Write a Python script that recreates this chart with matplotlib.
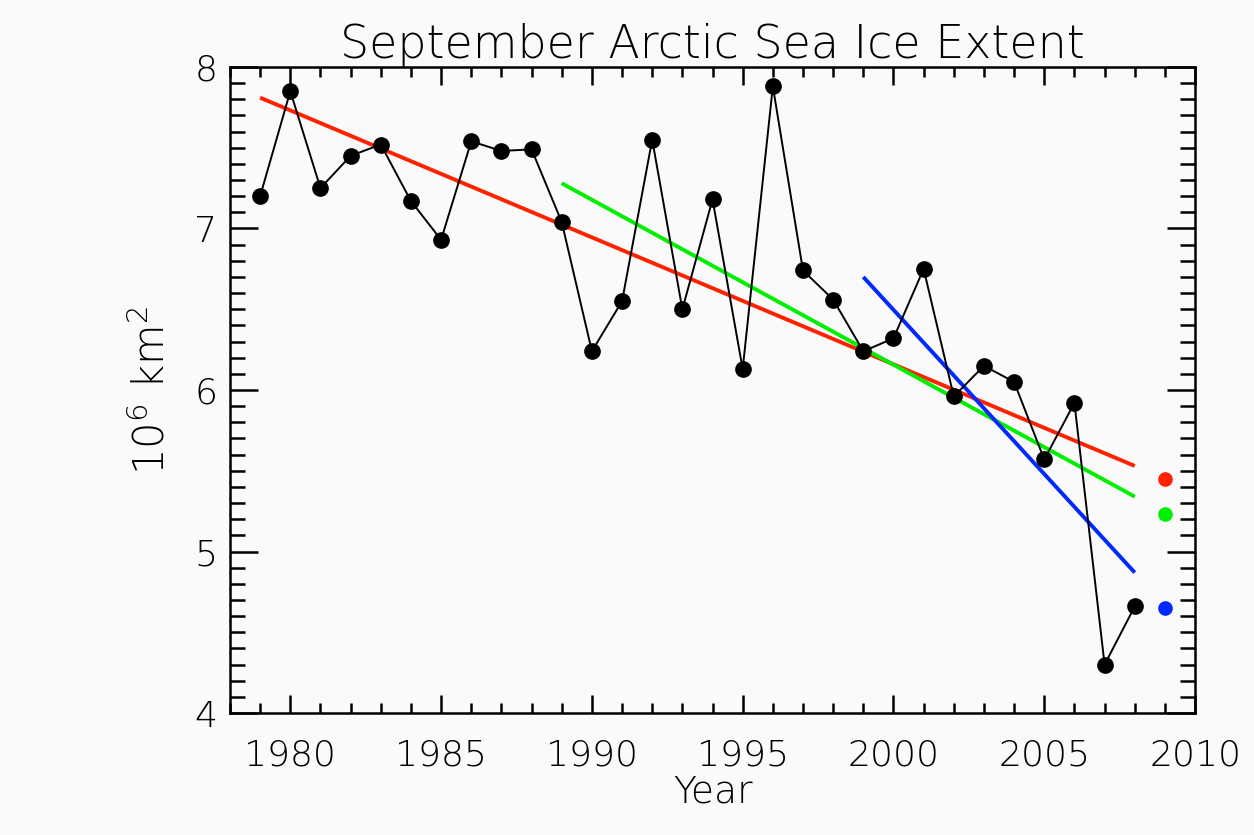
import matplotlib
matplotlib.use("Agg")
import matplotlib.pyplot as plt
from matplotlib.ticker import MultipleLocator

# September extent, 10^6 km^2
years = list(range(1979, 2009))
extent = [7.20, 7.85, 7.25, 7.45, 7.52, 7.17, 6.93, 7.54, 7.48, 7.49,
          7.04, 6.24, 6.55, 7.55, 6.50, 7.18, 6.13, 7.88, 6.74, 6.56,
          6.24, 6.32, 6.75, 5.96, 6.15, 6.05, 5.57, 5.92, 4.30, 4.66]

# trend lines (start year, end year) and their end values
trend_years = [[1979, 2008], [1989, 2008], [1999, 2008]]
trend_vals = [[7.81, 5.53], [7.28, 5.34], [6.70, 4.87]]
trend_colors = ['#ff2200', '#00ee00', '#0028ff']

# 2009 projections from each trend
proj_year = 2009
proj_vals = [5.45, 5.23, 4.65]

plt.rcParams['font.family'] = ['DejaVu Sans']
plt.rcParams['font.weight'] = 'light'
plt.rcParams['axes.titleweight'] = 'light'
plt.rcParams['axes.labelweight'] = 'light'
plt.rcParams['mathtext.fontset'] = 'custom'
plt.rcParams['mathtext.rm'] = 'DejaVu Sans:light'
plt.rcParams['mathtext.default'] = 'rm'

bg = '#fafafa'
fig = plt.figure(figsize=(12.54, 8.35), dpi=100, facecolor=bg)
ax = fig.add_axes([0.1834, 0.146, 0.7696, 0.7738], facecolor=bg)

for yrs, vals, c in zip(trend_years, trend_vals, trend_colors):
    ax.plot(yrs, vals, color=c, lw=2.8, solid_capstyle='butt', zorder=2)

ax.plot(years, extent, color='black', lw=1.4, marker='o', ms=11,
        zorder=3)

for v, c in zip(proj_vals, trend_colors):
    ax.plot([proj_year], [v], 'o', color=c, ms=9.5, zorder=3)

ax.set_xlim(1978, 2010)
ax.set_ylim(4, 8)
ax.xaxis.set_major_locator(MultipleLocator(5))
ax.xaxis.set_minor_locator(MultipleLocator(1))
ax.yaxis.set_major_locator(MultipleLocator(1))
ax.yaxis.set_minor_locator(MultipleLocator(0.1))

ax.tick_params(which='both', direction='in', top=True, right=True,
               width=1.8, labelsize=26, colors='black')
ax.tick_params(axis='x', which='major', length=13, pad=18)
ax.tick_params(axis='x', which='minor', length=7)
ax.tick_params(axis='y', which='major', length=20, pad=9)
ax.tick_params(axis='y', which='minor', length=11)
for s in ax.spines.values():
    s.set_linewidth(1.8)

ax.set_title('September Arctic Sea Ice Extent', fontsize=33, pad=6)
ax.set_xlabel('Year', fontsize=27, labelpad=2)
ax.set_ylabel('10$^6$ km$^2$', fontsize=30, labelpad=16)

fig.savefig('out.png', dpi=100, facecolor=bg)
